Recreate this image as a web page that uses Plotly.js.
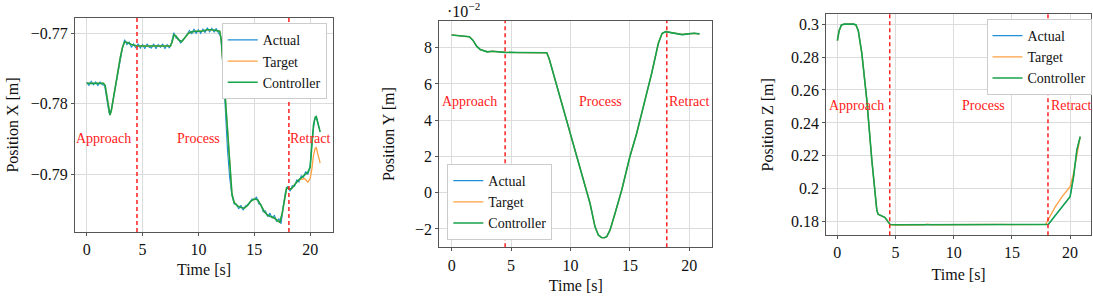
<!DOCTYPE html>
<html>
<head>
<meta charset="utf-8">
<script src="https://cdn.plot.ly/plotly-3.0.1.min.js"></script>
<style>html,body{margin:0;padding:0;background:#fff;}#chart{width:1093px;height:296px;}</style>
</head>
<body>
<div id="chart"></div>
<script>
// ---------- Panel 1: Position X ----------
const timeX = [0,0.25,0.5,0.75,1.0,1.25,1.5,1.65,1.8,1.95,2.08,2.2,2.4,2.6,2.8,3.0,3.2,3.4,3.6,3.8,4.0,4.5,5,5.5,6,6.5,7,7.5,7.65,7.8,8.0,8.2,8.5,8.8,9.1,9.4,9.8,10.3,10.8,11.2,11.6,11.9,12.05,12.2,12.4,12.6,12.8,13.0,13.2,13.5,13.8,14.1,14.4,14.7,15.0,15.3,15.6,15.9,16.2,16.5,16.8,17.1,17.3,17.5,17.7,17.9,18.1,18.3,18.6,18.9,19.2,19.5,19.8,20.0,20.15,20.3,20.45,20.55,20.7,20.9];
const ctrlX = [-0.7771,-0.7771,-0.7772,-0.7771,-0.7771,-0.7772,-0.7771,-0.7774,-0.7790,-0.7808,-0.7816,-0.7810,-0.7790,-0.7770,-0.7752,-0.7735,-0.7720,-0.7712,-0.7713,-0.7715,-0.7716,-0.7718,-0.7718,-0.7718,-0.7718,-0.7718,-0.7718,-0.7718,-0.7712,-0.7702,-0.7704,-0.7709,-0.7712,-0.7706,-0.7700,-0.7698,-0.7697,-0.7697,-0.7695,-0.7695,-0.7696,-0.7697,-0.7710,-0.7745,-0.7790,-0.7840,-0.7890,-0.7928,-0.7940,-0.7945,-0.7947,-0.7948,-0.7944,-0.7938,-0.7935,-0.7936,-0.7944,-0.7953,-0.7958,-0.7960,-0.7962,-0.7966,-0.7968,-0.7955,-0.7935,-0.7919,-0.7920,-0.7921,-0.7915,-0.7909,-0.7905,-0.7901,-0.7897,-0.7890,-0.7860,-0.7830,-0.7819,-0.7818,-0.7828,-0.7840];
const targetX = [-0.7771,-0.7771,-0.7772,-0.7771,-0.7771,-0.7772,-0.7771,-0.7774,-0.7790,-0.7808,-0.7816,-0.7810,-0.7790,-0.7770,-0.7752,-0.7735,-0.7720,-0.7712,-0.7713,-0.7715,-0.7716,-0.7718,-0.7718,-0.7718,-0.7718,-0.7718,-0.7718,-0.7718,-0.7712,-0.7702,-0.7704,-0.7709,-0.7712,-0.7706,-0.7700,-0.7698,-0.7697,-0.7697,-0.7695,-0.7695,-0.7696,-0.7697,-0.7710,-0.7745,-0.7790,-0.7840,-0.7890,-0.7928,-0.7940,-0.7945,-0.7947,-0.7948,-0.7944,-0.7938,-0.7935,-0.7936,-0.7944,-0.7953,-0.7958,-0.7960,-0.7962,-0.7966,-0.7968,-0.7955,-0.7935,-0.7919,-0.7920,-0.7921,-0.7915,-0.7909,-0.7907,-0.7906,-0.7911,-0.7906,-0.7893,-0.7873,-0.7863,-0.7862,-0.7872,-0.7884];
const timeActX = [0,0.2,0.4,0.6,0.8,1.0,1.2,1.4,1.6,1.8,2.0,2.2,2.4,2.6,2.8,3.0,3.2,3.4,3.6,3.8,4.0,4.2,4.4,4.6,4.8,5.0,5.2,5.4,5.6,5.8,6.0,6.2,6.4,6.6,6.8,7.0,7.2,7.4,7.6,7.8,8.0,8.2,8.4,8.6,8.8,9.0,9.2,9.4,9.6,9.8,10.0,10.2,10.4,10.6,10.8,11.0,11.2,11.4,11.6,11.8,12.0,12.2,12.4,12.6,12.8,13.0,13.2,13.4,13.6,13.8,14.0,14.2,14.4,14.6,14.8,15.0,15.2,15.4,15.6,15.8,16.0,16.2,16.4,16.6,16.8,17.0,17.2,17.4,17.6,17.8,18.0,18.2,18.4,18.6,18.8,19.0,19.2,19.4,19.6,19.8,20.0,20.2,20.4,20.6,20.8];
const actualX = [-0.7769,-0.7774,-0.7768,-0.7773,-0.7769,-0.7774,-0.7769,-0.7773,-0.7774,-0.7791,-0.7813,-0.7809,-0.7791,-0.7769,-0.7753,-0.7734,-0.7721,-0.7709,-0.7716,-0.7712,-0.7720,-0.7715,-0.7721,-0.7715,-0.7721,-0.7716,-0.7722,-0.7715,-0.7720,-0.7721,-0.7715,-0.7722,-0.7716,-0.7720,-0.7715,-0.7722,-0.7716,-0.7721,-0.7713,-0.7699,-0.7707,-0.7707,-0.7714,-0.7709,-0.7706,-0.7701,-0.7696,-0.7701,-0.7694,-0.7700,-0.7695,-0.7700,-0.7694,-0.7699,-0.7692,-0.7698,-0.7693,-0.7698,-0.7693,-0.7700,-0.7704,-0.7745,-0.7812,-0.7865,-0.7905,-0.7930,-0.7942,-0.7942,-0.7949,-0.7944,-0.7951,-0.7945,-0.7943,-0.7940,-0.7935,-0.7936,-0.7932,-0.7942,-0.7943,-0.7953,-0.7952,-0.7960,-0.7955,-0.7962,-0.7958,-0.7967,-0.7963,-0.7970,-0.7945,-0.7924,-0.7917,-0.7924,-0.7916,-0.7917,-0.7908,-0.7911,-0.7902,-0.7904,-0.7896,-0.7900,-0.7888,-0.7848,-0.7822,-0.7821,-0.7834];

// ---------- Panel 2: Position Y (metres) ----------
const timeY = [0,0.5,1.0,1.5,1.8,2.1,2.4,2.7,3.0,3.4,3.8,4.5,5.5,6.5,7.5,8.0,8.2,8.55,9.12,9.68,10.24,10.52,11.08,11.64,12.06,12.34,12.6,12.85,13.05,13.33,13.75,14.31,15.0,15.57,16.13,16.83,17.39,17.7,18.0,18.4,18.9,19.4,19.9,20.4,20.85];
const ctrlY = [0.0870,0.0866,0.0865,0.0860,0.0840,0.0808,0.0790,0.0782,0.0777,0.0780,0.0777,0.0774,0.0773,0.0773,0.0773,0.0772,0.0740,0.0659,0.0530,0.0400,0.0273,0.0200,0.0070,-0.0058,-0.0187,-0.0233,-0.0247,-0.0248,-0.0242,-0.0205,-0.0113,0.0015,0.0200,0.0328,0.0475,0.0659,0.0824,0.0878,0.0888,0.0884,0.0876,0.0872,0.0876,0.0879,0.0876];
const targetY = [0.0870,0.0866,0.0865,0.0860,0.0840,0.0808,0.0790,0.0782,0.0777,0.0780,0.0777,0.0774,0.0773,0.0773,0.0773,0.0772,0.0740,0.0659,0.0530,0.0400,0.0273,0.0200,0.0070,-0.0058,-0.0187,-0.0233,-0.0247,-0.0248,-0.0242,-0.0205,-0.0113,0.0015,0.0200,0.0328,0.0475,0.0659,0.0824,0.0878,0.0888,0.0884,0.0876,0.0873,0.0877,0.0879,0.0876];
const actualY = [0.0870,0.0866,0.0865,0.0860,0.0840,0.0808,0.0790,0.0782,0.0777,0.0780,0.0777,0.0774,0.0773,0.0773,0.0773,0.0772,0.0740,0.0659,0.0530,0.0400,0.0273,0.0200,0.0070,-0.0058,-0.0187,-0.0233,-0.0247,-0.0248,-0.0242,-0.0205,-0.0113,0.0015,0.0200,0.0328,0.0475,0.0659,0.0824,0.0878,0.0888,0.0884,0.0876,0.0872,0.0876,0.0879,0.0876];
const yTickVals = [-0.02,0,0.02,0.04,0.06,0.08];
const yTickText = ['\u22122','0','2','4','6','8'];

// ---------- Panel 3: Position Z ----------
const timeZ = [0,0.15,0.35,0.6,1.0,1.4,1.6,1.8,2.1,2.53,2.96,3.2,3.39,3.5,3.7,4.1,4.35,4.53,5,6,7,7.5,7.7,8,9,10,11,12,13,13.6,14,15,16,17,18.13,18.7,19.3,20.0,20.3,20.58,20.87];
const ctrlZ = [0.2900,0.2960,0.2995,0.3000,0.3000,0.3000,0.2995,0.2960,0.2824,0.2540,0.2175,0.2000,0.1870,0.1845,0.1838,0.1825,0.1800,0.1783,0.1781,0.1781,0.1781,0.1781,0.1784,0.1782,0.1782,0.1782,0.1782,0.1782,0.1782,0.1784,0.1783,0.1782,0.1782,0.1782,0.1783,0.1835,0.1890,0.1951,0.2073,0.2235,0.2316];
const timeTargetZ = [0,0.15,0.35,0.6,1.0,1.4,1.6,1.8,2.1,2.53,2.96,3.2,3.39,3.5,3.7,4.1,4.35,4.53,5,6,7,7.5,7.7,8,9,10,11,12,13,13.6,14,15,16,17,17.9,18.72,19.3,20.0,20.3,20.72,20.87];
const targetZ = [0.2900,0.2960,0.2995,0.3000,0.3000,0.3000,0.2995,0.2960,0.2824,0.2540,0.2175,0.2000,0.1870,0.1845,0.1838,0.1825,0.1800,0.1780,0.1779,0.1779,0.1779,0.1780,0.1785,0.1781,0.1781,0.1782,0.1782,0.1782,0.1783,0.1785,0.1783,0.1782,0.1782,0.1782,0.1783,0.1890,0.1950,0.2012,0.2094,0.2256,0.2316];
const actualZ = [0.2900,0.2960,0.2995,0.3000,0.3000,0.3000,0.2995,0.2960,0.2824,0.2540,0.2175,0.2000,0.1870,0.1845,0.1838,0.1825,0.1800,0.1783,0.1781,0.1781,0.1781,0.1781,0.1784,0.1782,0.1782,0.1782,0.1782,0.1782,0.1782,0.1784,0.1783,0.1782,0.1782,0.1782,0.1783,0.1835,0.1890,0.1951,0.2073,0.2235,0.2316];
const zTickVals = [0.18,0.2,0.22,0.24,0.26,0.28,0.3];
const zTickText = ['0.18','0.2','0.22','0.24','0.26','0.28','0.3'];

// ---------- Common ----------
const xTickVals = [0,5,10,15,20];
const phaseLines = [4.5, 18.1];
const phaseNames = ['Approach','Process','Retract'];
const phaseLabelX = [[1.5,10.0,20.0],[1.54,12.5,20.0],[1.67,12.55,20.15]];
const phaseLabelY = [-0.7849, 0.0505, 0.2503];
const seriesNames = ['Actual','Target','Controller'];
const colors = ['#1f8fd6','#ffa040','#17a34a'];

const FONT = 'Liberation Serif';

function mk(x, y, i, xa, ya, leg) {
  return {x:x, y:y, type:'scatter', mode:'lines', name:seriesNames[i],
    line:{color:colors[i], width: i===2?1.6:(i===1?1.3:1.1)},
    xaxis:xa, yaxis:ya, legend:leg, showlegend:true, hoverinfo:'skip'};
}

const data = [
  mk(timeActX, actualX, 0, 'x', 'y', 'legend'),
  mk(timeX, targetX, 1, 'x', 'y', 'legend'),
  mk(timeX, ctrlX, 2, 'x', 'y', 'legend'),
  mk(timeY, actualY, 0, 'x2', 'y2', 'legend2'),
  mk(timeY, targetY, 1, 'x2', 'y2', 'legend2'),
  mk(timeY, ctrlY, 2, 'x2', 'y2', 'legend2'),
  mk(timeZ, actualZ, 0, 'x3', 'y3', 'legend3'),
  mk(timeTargetZ, targetZ, 1, 'x3', 'y3', 'legend3'),
  mk(timeZ, ctrlZ, 2, 'x3', 'y3', 'legend3')
];

const axisBase = {
  showgrid:true, gridcolor:'#dcdcdc', gridwidth:1,
  showline:true, mirror:true, linecolor:'#555555', linewidth:1,
  ticks:'outside', ticklen:3, tickcolor:'#555555',
  zeroline:false, tickfont:{family:FONT, size:16, color:'#111'},
  fixedrange:true
};
function xa(domain, range, anchor, standoff) {
  return Object.assign({}, axisBase, {domain:domain, range:range, anchor:anchor,
    tickvals:xTickVals, title:{text:'Time [s]', font:{family:FONT, size:16, color:'#111'}, standoff:standoff}});
}
function ya(domain, range, anchor, title, standoff, extra) {
  return Object.assign({}, axisBase, {domain:domain, range:range, anchor:anchor,
    title:{text:title, font:{family:FONT, size:16, color:'#111'}, standoff:standoff}}, extra||{});
}

const legBase = {bgcolor:'#ffffff', bordercolor:'#cccccc', borderwidth:1,
  font:{family:FONT, size:14, color:'#111'}, itemwidth:30, tracegroupgap:0};

const shapes = [];
[['x','y'],['x2','y2'],['x3','y3']].forEach(function(p){
  phaseLines.forEach(function(t){
    shapes.push({type:'line', xref:p[0], yref:p[1]+' domain', x0:t, x1:t, y0:0, y1:1,
      line:{color:'#ff2020', width:1.5, dash:'4px,3px'}});
  });
});

const annotations = [];
[['x','y'],['x2','y2'],['x3','y3']].forEach(function(p, k){
  phaseNames.forEach(function(n, j){
    annotations.push({xref:p[0], yref:p[1], x:phaseLabelX[k][j], y:phaseLabelY[k], text:n,
      showarrow:false, xanchor:'center', yanchor:'middle',
      font:{family:FONT, size:14, color:'#ff1a1a'}});
  });
});
annotations.push({xref:'paper', yref:'paper', x:445/1093, y:(296-10)/296, xanchor:'left', yanchor:'middle',
  text:'\u00b710<sup>\u22122</sup>', showarrow:false, font:{family:FONT, size:16, color:'#111'}});

const layout = {
  width:1093, height:296, margin:{l:0,r:0,t:0,b:0},
  paper_bgcolor:'#ffffff', plot_bgcolor:'#ffffff',
  font:{family:FONT, color:'#111'},
  xaxis: xa([0.0686,0.3047], [-1.05,22.05], 'y', 6),
  yaxis: ya([0.2162,0.9392], [-0.79818,-0.76783], 'x', 'Position X [m]', 8, {tickvals:[-0.79,-0.78,-0.77], tickformat:'.2f'}),
  xaxis2: xa([0.4019,0.6517], [-1.04,21.93], 'y2', 7),
  yaxis2: ya([0.1645,0.9291], [-0.0301,0.0947], 'x2', 'Position Y [m]', 16, {tickvals:yTickVals, ticktext:yTickText}),
  xaxis3: xa([0.7560,0.9982], [-0.95,21.8], 'y3', 8),
  yaxis3: ya([0.2051,0.9517], [0.1717,0.306], 'x3', 'Position Z [m]', 13, {tickvals:zTickVals, ticktext:zTickText}),
  legend: Object.assign({}, legBase, {x:326.7/1093, xanchor:'right', y:(296-23.3)/296, yanchor:'top'}),
  legend2: Object.assign({}, legBase, {x:447.3/1093, xanchor:'left', y:(296-240)/296, yanchor:'bottom'}),
  legend3: Object.assign({}, legBase, {x:1091.5/1093, xanchor:'right', y:(296-19)/296, yanchor:'top'}),
  shapes: shapes,
  annotations: annotations,
  showlegend:true
};

Plotly.newPlot('chart', data, layout, {staticPlot:true, displayModeBar:false});
</script>
</body>
</html>
